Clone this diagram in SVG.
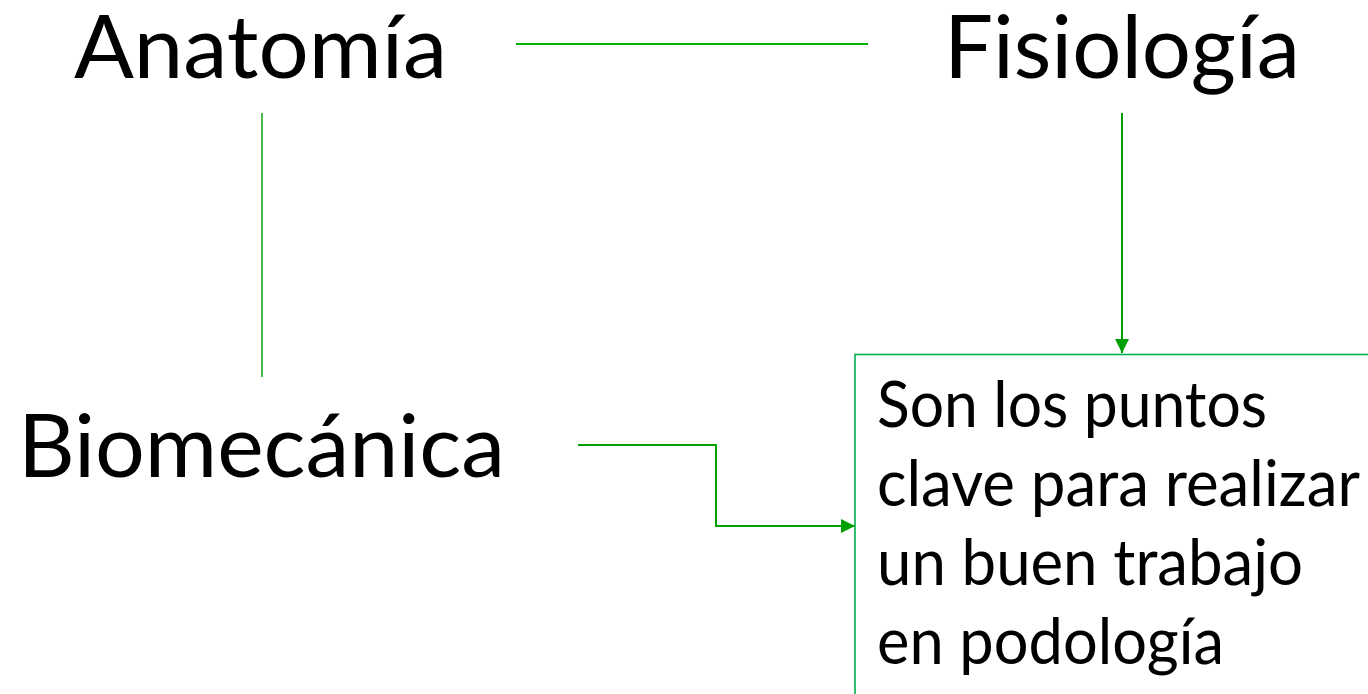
<svg xmlns="http://www.w3.org/2000/svg" width="1368" height="694" viewBox="0 0 1368 694">
<style>
.t{font-family:Lato,"Open Sans","Liberation Sans",sans-serif;fill:#000}
.big{font-size:86.5px}
.mid{font-size:63px}
.c{fill:none;stroke-width:2}
</style>
<defs>
<marker id="ah" viewBox="0 0 10 10" refX="10" refY="5" markerWidth="15" markerHeight="14" markerUnits="userSpaceOnUse" orient="auto">
<path d="M0,0 L10,5 L0,10 Z" fill="#00a000"/>
</marker>
</defs>
<rect width="1368" height="694" fill="#fff"/>
<g id="connectors">
<line x1="516" y1="44" x2="868" y2="44" class="c" stroke="#00b000" stroke-width="1.6"/>
<line x1="262" y1="113" x2="262" y2="377" class="c" stroke="#4cb84c" stroke-width="1.6"/>
<line x1="1122" y1="113" x2="1122" y2="353" class="c" stroke="#00a000" marker-end="url(#ah)"/>
<polyline points="578,445 716,445 716,526 855,526" class="c" stroke="#00a000" marker-end="url(#ah)"/>
</g>
<g id="anatomia"><text class="t big" x="74" y="78" textLength="373" lengthAdjust="spacingAndGlyphs">Anatomía</text></g>
<g id="fisiologia"><text class="t big" x="944" y="78" textLength="356" lengthAdjust="spacingAndGlyphs">Fisiología</text></g>
<g id="biomecanica"><text class="t big" x="18" y="477" textLength="487" lengthAdjust="spacingAndGlyphs">Biomecánica</text></g>
<g id="box">
<rect x="855" y="354.5" width="520" height="350" fill="none" stroke="#00b050" stroke-width="1.6"/>
<text class="t mid" x="877" y="427" textLength="390" lengthAdjust="spacingAndGlyphs">Son los puntos</text>
<text class="t mid" x="877" y="506" textLength="483" lengthAdjust="spacingAndGlyphs">clave para realizar</text>
<text class="t mid" x="877" y="585" textLength="426" lengthAdjust="spacingAndGlyphs">un buen trabajo</text>
<text class="t mid" x="877" y="664" textLength="347" lengthAdjust="spacingAndGlyphs">en podología</text>
</g>
</svg>
